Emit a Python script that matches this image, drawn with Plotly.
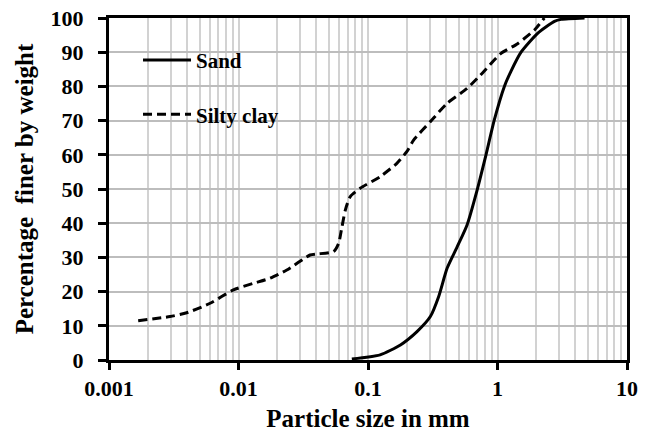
import plotly.graph_objects as go

# Data
sand_x = [0.075, 0.124, 0.178, 0.239, 0.303, 0.351, 0.408, 0.487, 0.582, 0.696, 0.815,
          0.945, 1.13, 1.27, 1.52, 2.04, 2.75, 3.1, 4.7]
sand_y = [0.3, 1.5, 4.4, 8.3, 12.7, 18.5, 26.8, 33, 39.5, 49.7, 60,
          70.2, 80, 84.4, 90, 95.5, 99, 99.6, 100]

clay_x = [0.00168, 0.00296, 0.00398, 0.00604, 0.00914, 0.0130, 0.0175, 0.0236, 0.0357,
          0.0404, 0.0542, 0.0593, 0.063, 0.0669, 0.073, 0.087, 0.124, 0.167, 0.2,
          0.225, 0.303, 0.407, 0.582, 0.738, 1.06, 1.43, 1.93, 2.3]
clay_y = [11.5, 12.7, 13.8, 16.6, 20.5, 22.4, 23.9, 26.3, 30.7,
          31.0, 31.7, 34.1, 39, 43.9, 47.8, 50.2, 53.6, 57.5, 61,
          64.3, 69.7, 75, 79.4, 83.3, 89.6, 92.5, 96.5, 100]

x_major = [0.001, 0.01, 0.1, 1, 10]
x_major_labels = ["0.001", "0.01", "0.1", "1", "10"]
x_minor = [m * d for d in [0.001, 0.01, 0.1, 1] for m in range(2, 10)]
y_ticks = list(range(0, 101, 10))

FONT = "Liberation Serif"

fig = go.Figure()
fig.add_trace(go.Scatter(x=sand_x, y=sand_y, mode="lines", name="Sand",
                         legendgroup="a",
                         line=dict(color="black", width=3, shape="spline", smoothing=0.6)))
fig.add_trace(go.Scatter(x=clay_x, y=clay_y, mode="lines", name="Silty clay",
                         legendgroup="b",
                         line=dict(color="black", width=3, dash="9px,5px", shape="spline",
                                   smoothing=0.6)))

fig.update_layout(
    width=653, height=436,
    margin=dict(l=109, r=26, t=18, b=76),
    paper_bgcolor="white", plot_bgcolor="white",
    font=dict(family=FONT, color="black", size=22, weight="bold"),
    showlegend=True,
    legend=dict(x=0.056, y=0.936, xanchor="left", yanchor="top",
                bgcolor="rgba(0,0,0,0)", font=dict(size=21, family=FONT, weight="bold"),
                tracegroupgap=24, itemwidth=48, traceorder="grouped"),
    xaxis=dict(type="log", range=[-3, 1], tickvals=x_major, ticktext=x_major_labels,
               ticks="outside", ticklen=7, tickwidth=3, tickcolor="black",
               showline=True, linecolor="black", linewidth=3, mirror=True,
               showgrid=True, gridcolor="#d2d2d2", gridwidth=1.5,
               minor=dict(tickvals=x_minor, showgrid=True, gridcolor="#d2d2d2",
                          gridwidth=1.5, ticks=""),
               tickfont=dict(size=22, family=FONT, weight="bold"),
               title=dict(text="Particle size in mm",
                          font=dict(size=25, family=FONT, weight="bold"), standoff=10),
               automargin=False, zeroline=False),
    yaxis=dict(range=[0, 100], tickvals=y_ticks,
               ticks="outside", ticklen=8, tickwidth=3, tickcolor="black",
               ticklabelstandoff=10,
               showline=True, linecolor="black", linewidth=3, mirror=True,
               showgrid=True, gridcolor="#bdbdbd", gridwidth=1.5,
               tickfont=dict(size=22, family=FONT, weight="bold"),
               title=dict(text="Percentage  finer by weight",
                          font=dict(size=25, family=FONT, weight="bold"), standoff=10),
               automargin=False, zeroline=False),
)

fig.write_html("out.html", config={"displayModeBar": False},
               post_script="document.body.style.margin='0';")
